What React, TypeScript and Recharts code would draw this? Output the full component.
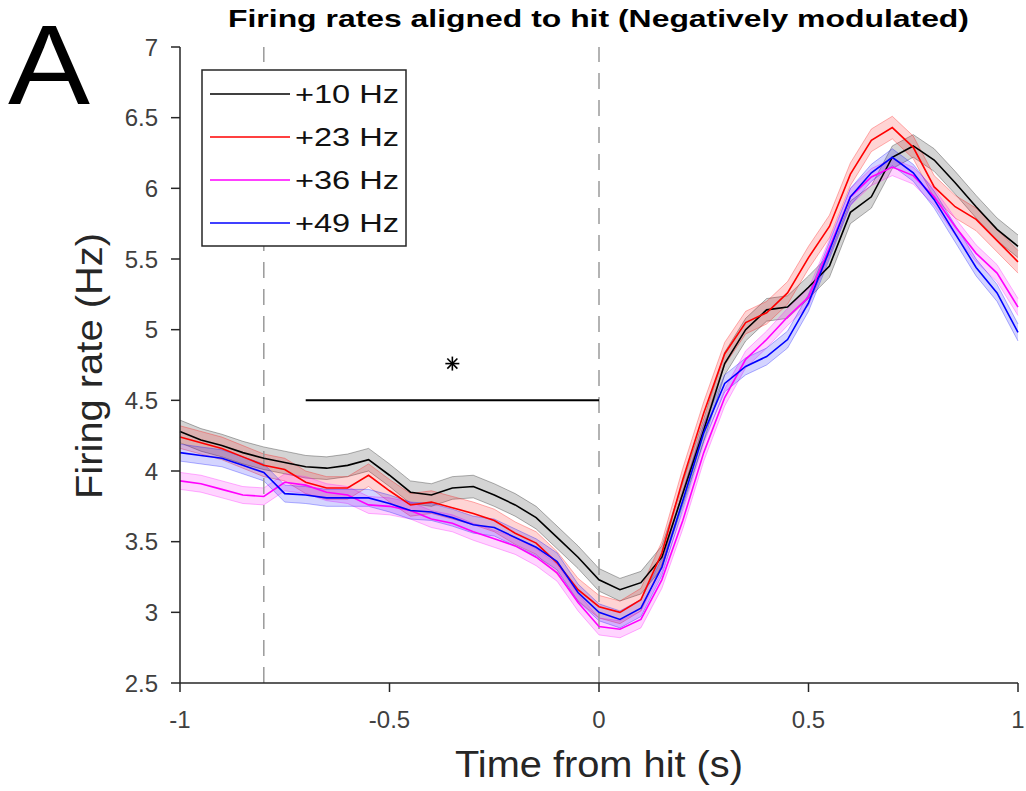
import React from 'react';
import { ComposedChart, Line, Area, XAxis, YAxis, ReferenceLine, ReferenceDot } from 'recharts';

// time from hit (s), 50 ms steps
const timeSec = [
  -1, -0.95, -0.9, -0.85, -0.8, -0.75, -0.7, -0.65, -0.6, -0.55, -0.5,
  -0.45, -0.4, -0.35, -0.3, -0.25, -0.2, -0.15, -0.1, -0.05, 0,
  0.05, 0.1, 0.15, 0.2, 0.25, 0.3, 0.35, 0.4, 0.45, 0.5,
  0.55, 0.6, 0.65, 0.7, 0.75, 0.8, 0.85, 0.9, 0.95, 1,
];

// mean firing rate (Hz) per stimulation condition
const rate10 = [
  4.28, 4.22, 4.18, 4.13, 4.09, 4.06, 4.03, 4.02, 4.04, 4.08, 3.97,
  3.85, 3.83, 3.88, 3.89, 3.83, 3.76, 3.67, 3.53, 3.39, 3.23,
  3.16, 3.21, 3.39, 3.84, 4.29, 4.76, 5.0, 5.14, 5.16, 5.3,
  5.45, 5.83, 5.94, 6.22, 6.3, 6.2, 6.04, 5.87, 5.71, 5.59,
];
const rate23 = [
  4.24, 4.2, 4.16, 4.1, 4.04, 4.01, 3.92, 3.88, 3.88, 3.97, 3.86,
  3.76, 3.78, 3.74, 3.7, 3.65, 3.56, 3.49, 3.35, 3.16, 3.04,
  3.0, 3.09, 3.42, 3.94, 4.41, 4.83, 5.05, 5.12, 5.26, 5.51,
  5.73, 6.1, 6.34, 6.43, 6.29, 6.01, 5.87, 5.78, 5.63, 5.48,
];
const rate36 = [
  3.93, 3.91, 3.87, 3.83, 3.82, 3.92, 3.9, 3.85, 3.83, 3.76, 3.75,
  3.72, 3.66, 3.63, 3.57, 3.52, 3.47, 3.39, 3.28, 3.07, 2.9,
  2.88, 2.95, 3.23, 3.65, 4.13, 4.52, 4.79, 4.93, 5.09, 5.23,
  5.58, 5.94, 6.08, 6.15, 6.09, 5.94, 5.73, 5.54, 5.4, 5.16,
];
const rate49 = [
  4.13, 4.11, 4.09, 4.04, 3.99, 3.84, 3.83, 3.81, 3.81, 3.81, 3.77,
  3.72, 3.71, 3.67, 3.62, 3.6, 3.53, 3.46, 3.36, 3.14, 3.0,
  2.95, 3.03, 3.32, 3.79, 4.27, 4.62, 4.74, 4.81, 4.93, 5.19,
  5.56, 5.94, 6.11, 6.22, 6.11, 5.92, 5.68, 5.44, 5.26, 4.98,
];

// half-width of the shaded error band, per condition
const semHz = [0.08, 0.08, 0.06, 0.06];

const seriesNames = ['+10 Hz', '+23 Hz', '+36 Hz', '+49 Hz'];
const seriesColors = ['#000000', '#ff0000', '#ff00ff', '#0000ff'];
const bandColors = ['#000000', '#ff0000', '#ff00ff', '#0000ff'];

const xTicks = [-1, -0.5, 0, 0.5, 1];
const yTicks = [2.5, 3, 3.5, 4, 4.5, 5, 5.5, 6, 6.5, 7];
const markerLines = [-0.8, 0];
const sigBar = { from: -0.7, to: 0, level: 4.5 };
const sigStar = { x: -0.35, y: 4.76 };

const allRates = [rate10, rate23, rate36, rate49];

const data = timeSec.map((t, i) => {
  const row: any = { t };
  allRates.forEach((r, k) => {
    row['m' + k] = r[i];
    row['b' + k] = [r[i] - semHz[k], r[i] + semHz[k]];
  });
  return row;
});

const FONT = '"Liberation Sans", Arial, Helvetica, sans-serif';
const AXIS = '#262626';

function StarMarker(props: any) {
  const { cx, cy } = props;
  const r = 7;
  const d = r * 0.72;
  return (
    <g stroke="#000" strokeWidth={1.6}>
      <line x1={cx - r} y1={cy} x2={cx + r} y2={cy} />
      <line x1={cx} y1={cy - r} x2={cx} y2={cy + r} />
      <line x1={cx - d} y1={cy - d} x2={cx + d} y2={cy + d} />
      <line x1={cx - d} y1={cy + d} x2={cx + d} y2={cy - d} />
    </g>
  );
}

// legend box, top-left inside the axes
function LegendBox() {
  const rowY = [94, 137, 180, 223];
  return (
    <g>
      <rect x={202} y={70} width={204} height={176} fill="#fff" stroke={AXIS} strokeWidth={1.5} />
      {seriesNames.map((name, k) => (
        <g key={name}>
          <line x1={210} y1={rowY[k]} x2={290} y2={rowY[k]} stroke={seriesColors[k]} strokeWidth={1.5} />
          <text
            x={295}
            y={rowY[k] + 9}
            fontFamily={FONT}
            fontSize={25}
            fill="#111"
            textLength={104}
            lengthAdjust="spacingAndGlyphs"
          >
            {name}
          </text>
        </g>
      ))}
    </g>
  );
}

export default function App() {
  return (
    <div style={{ position: 'absolute', left: 0, top: 0, width: 1026, height: 791, background: '#fff' }}>
      <ComposedChart width={1026} height={791} data={data} margin={{ top: 47, right: 8, bottom: 0, left: 0 }}>
        <XAxis
          dataKey="t"
          type="number"
          domain={[-1, 1]}
          ticks={xTicks}
          height={108}
          tickSize={9}
          tickMargin={19}
          stroke={AXIS}
          strokeWidth={1.5}
          tick={{ fontSize: 24, fill: '#404040', fontFamily: FONT }}
        />
        <YAxis
          type="number"
          domain={[2.5, 7]}
          ticks={yTicks}
          width={180}
          tickSize={9}
          tickMargin={13}
          stroke={AXIS}
          strokeWidth={1.5}
          tick={{ fontSize: 24, fill: '#404040', fontFamily: FONT }}
        />
        {markerLines.map((x) => (
          <ReferenceLine key={x} x={x} stroke="#9a9a9a" strokeWidth={1.5} strokeDasharray="16 11" />
        ))}
        {[0, 1, 2, 3].map((k) => (
          <Area
            key={'b' + k}
            type="linear"
            dataKey={'b' + k}
            stroke={bandColors[k]}
            strokeOpacity={0.3}
            strokeWidth={1}
            fill={bandColors[k]}
            fillOpacity={0.17}
            dot={false}
            activeDot={false}
            legendType="none"
            isAnimationActive={false}
          />
        ))}
        {[0, 1, 2, 3].map((k) => (
          <Line
            key={'m' + k}
            type="linear"
            dataKey={'m' + k}
            name={seriesNames[k]}
            stroke={seriesColors[k]}
            strokeWidth={1.6}
            dot={false}
            activeDot={false}
            isAnimationActive={false}
          />
        ))}
        <ReferenceLine
          segment={[{ x: sigBar.from, y: sigBar.level }, { x: sigBar.to, y: sigBar.level }]}
          stroke="#000"
          strokeWidth={2}
        />
        <ReferenceDot x={sigStar.x} y={sigStar.y} r={7} shape={StarMarker} />
      </ComposedChart>
      <svg
        width={1026}
        height={791}
        style={{ position: 'absolute', left: 0, top: 0, pointerEvents: 'none' }}
      >
        <LegendBox />
        <text x={8} y={104} fontFamily={FONT} fontSize={113} fill="#000" textLength={82} lengthAdjust="spacingAndGlyphs">
          A
        </text>
        <text
          x={228}
          y={27}
          fontFamily={FONT}
          fontSize={23}
          fontWeight="bold"
          fill="#000"
          textLength={741}
          lengthAdjust="spacingAndGlyphs"
        >
          Firing rates aligned to hit (Negatively modulated)
        </text>
        <text
          transform="translate(102,366) rotate(-90)"
          textAnchor="middle"
          fontFamily={FONT}
          fontSize={37}
          fill={AXIS}
          textLength={266}
          lengthAdjust="spacingAndGlyphs"
        >
          Firing rate (Hz)
        </text>
        <text
          x={455}
          y={777}
          fontFamily={FONT}
          fontSize={37}
          fill={AXIS}
          textLength={288}
          lengthAdjust="spacingAndGlyphs"
        >
          Time from hit (s)
        </text>
      </svg>
    </div>
  );
}
